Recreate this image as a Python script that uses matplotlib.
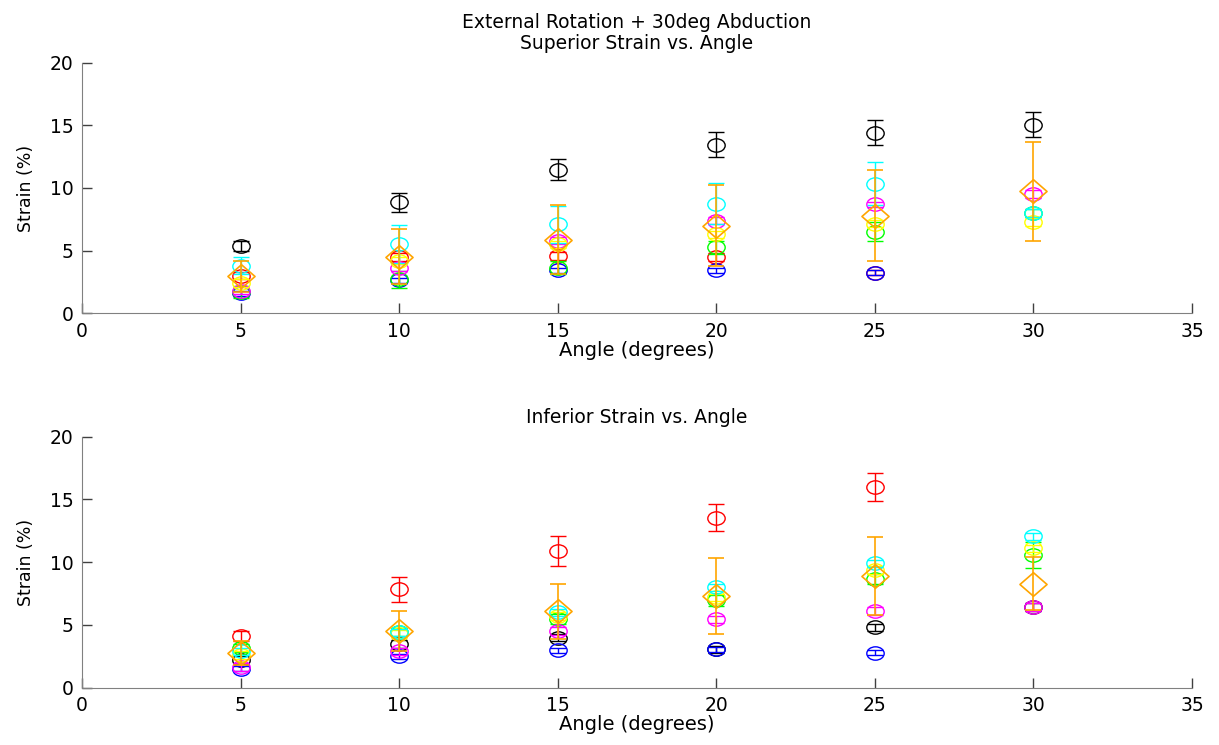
import numpy as np
import matplotlib
matplotlib.use("Agg")
import matplotlib.pyplot as plt
from matplotlib.path import Path
from matplotlib.transforms import Affine2D

plt.rcParams['font.family'] = ['DejaVu Sans']

angles = [5, 10, 15, 20, 25, 30]
nan = np.nan

# --- Superior strain (top panel) ---
sup = {
    'black':   ([5.4, 8.85, 11.45, 13.45, 14.4, 15.05], [0.4, 0.75, 0.85, 1.0, 1.0, 1.0]),
    'red':     ([3.0, 4.5, 4.55, 4.5, 3.25, nan], [0.3, 0.3, 0.3, 0.3, 0.2, nan]),
    'blue':    ([1.6, 2.65, 3.45, 3.45, 3.25, nan], [0.2, 0.2, 0.2, 0.2, 0.2, nan]),
    'green':   ([1.7, 2.7, 3.65, 5.25, 6.5, 8.0], [0.5, 0.7, 0.5, 0.5, 0.75, 0.3]),
    'magenta': ([1.8, 3.65, 5.8, 7.4, 8.7, 9.5], [0.3, 0.3, 0.3, 0.3, 0.2, 0.3]),
    'yellow':  ([2.4, 4.2, 5.5, 6.3, 7.15, 7.3], [0.3, 0.3, 0.3, 0.3, 0.3, 0.3]),
    'cyan':    ([3.8, 5.55, 7.1, 8.75, 10.35, 8.0], [0.7, 1.5, 1.5, 1.65, 1.7, 0.3]),
}
sup_mean = [2.95, 4.5, 5.87, 7.0, 7.8, 9.75]
sup_mean_err = [1.25, 2.2, 2.75, 3.25, 3.6, 3.95]

# --- Inferior strain (bottom panel) ---
inf = {
    'black':   ([2.2, 3.5, 4.0, 3.05, 4.8, 6.45], [0.3, 0.3, 0.3, 0.3, 0.3, 0.3]),
    'red':     ([4.15, 7.85, 10.9, 13.55, 16.0, nan], [0.4, 1.0, 1.2, 1.1, 1.1, nan]),
    'blue':    ([1.5, 2.5, 3.0, 3.05, 2.8, nan], [0.2, 0.2, 0.2, 0.2, 0.2, nan]),
    'green':   ([3.15, 4.45, 5.5, 6.95, 8.7, 10.55], [0.3, 0.3, 0.4, 0.4, 0.4, 1.05]),
    'magenta': ([1.65, 2.9, 4.5, 5.45, 6.1, 6.45], [0.3, 0.3, 0.3, 0.3, 0.3, 0.3]),
    'yellow':  ([2.6, 4.3, 5.7, 7.2, 9.4, 11.1], [0.3, 0.3, 0.3, 0.3, 0.3, 0.3]),
    'cyan':    ([2.9, 4.4, 6.0, 8.0, 9.9, 12.05], [0.3, 0.3, 0.3, 0.3, 0.3, 0.3]),
}
inf_mean = [2.75, 4.5, 6.1, 7.3, 8.9, 8.3]
inf_mean_err = [0.95, 1.6, 2.2, 3.0, 3.1, 2.1]

colors = {'black': '#000000', 'red': '#ff0000', 'blue': '#0000ff', 'green': '#00ff00',
          'magenta': '#ff00ff', 'yellow': '#ffff00', 'cyan': '#00ffff'}
orange = '#ffa500'

# the original figure is stretched sideways, so markers are a bit wide
ellipse = Path.unit_circle().transformed(Affine2D().scale(1.3, 1.0))
diamond = Path([(0, 1), (1.15, 0), (0, -1), (-1.15, 0), (0, 1)],
               [Path.MOVETO, Path.LINETO, Path.LINETO, Path.LINETO, Path.CLOSEPOLY])


def draw_panel(ax, series, mean, mean_err, title):
    for name, (vals, errs) in series.items():
        ax.errorbar(angles, vals, yerr=errs, fmt='none', ecolor=colors[name],
                    elinewidth=1.0, capsize=6, capthick=1.0)
        ax.plot(angles, vals, ls='none', marker=ellipse, ms=12.5, mfc='none',
                mec=colors[name], mew=1.0)
    ax.errorbar(angles, mean, yerr=mean_err, fmt='none', ecolor=orange,
                elinewidth=1.2, capsize=6, capthick=1.2)
    ax.plot(angles, mean, ls='none', marker=diamond, ms=19.5, mfc='none',
            mec=orange, mew=1.2)
    ax.set_xlim(0, 35)
    ax.set_ylim(0, 20)
    ax.set_xticks(range(0, 36, 5))
    ax.set_yticks(range(0, 21, 5))
    ax.spines['top'].set_visible(False)
    ax.spines['right'].set_visible(False)
    for s in ['left', 'bottom']:
        ax.spines[s].set_color('#808080')
    ax.tick_params(direction='in', length=7, width=1.0, color='#404040',
                   labelsize=13.5, pad=6)
    ax.set_xlabel('Angle (degrees)', fontsize=14, labelpad=0)
    ax.set_ylabel('Strain (%)', fontsize=12.5, labelpad=11)
    ax.set_title(title, fontsize=13.5, pad=10, linespacing=1.15)


fig = plt.figure(figsize=(12.19, 7.45), dpi=100)
ax1 = fig.add_axes([0.0673, 0.5795, 0.9106, 0.3364])
ax2 = fig.add_axes([0.0673, 0.0769, 0.9106, 0.3369])

draw_panel(ax1, sup, sup_mean, sup_mean_err,
           'External Rotation + 30deg Abduction\nSuperior Strain vs. Angle')
draw_panel(ax2, inf, inf_mean, inf_mean_err, 'Inferior Strain vs. Angle')

fig.savefig('out.png', dpi=100)
